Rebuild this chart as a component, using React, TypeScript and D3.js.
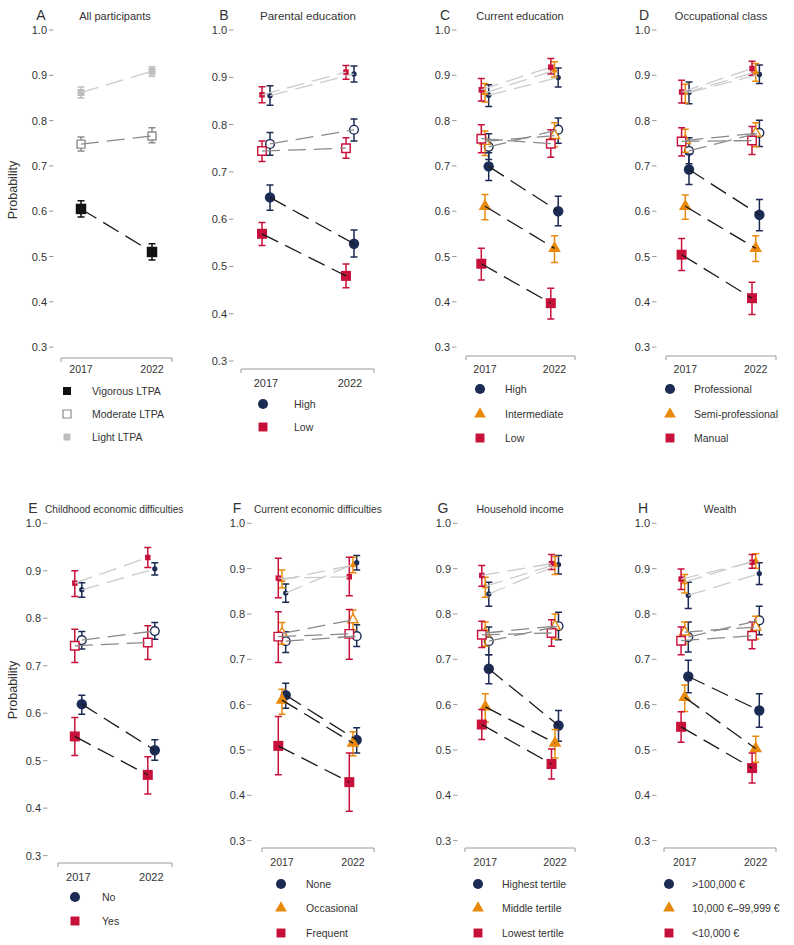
import React from "react";
import * as d3 from "d3";

type Level = "Vigorous" | "Moderate" | "Light";
type Row = { group: string; level: Level; est: number[]; lo: number[]; hi: number[] };

const years = ["2017", "2022"];
const yTicks = [0.3, 0.4, 0.5, 0.6, 0.7, 0.8, 0.9, 1.0];
const intensities = ["Vigorous LTPA", "Moderate LTPA", "Light LTPA"];

const groupsA = ["All"];
const groupsB = ["High", "Low"];
const groupsC = ["High", "Intermediate", "Low"];
const groupsD = ["Professional", "Semi-professional", "Manual"];
const groupsE = ["No", "Yes"];
const groupsF = ["None", "Occasional", "Frequent"];
const groupsG = ["Highest tertile", "Middle tertile", "Lowest tertile"];
const groupsH = [">100,000 €", "10,000 €–99,999 €", "<10,000 €"];

const allParticipants: Row[] = [
  { group: "All", level: "Vigorous", est: [0.605, 0.51], lo: [0.587, 0.492], hi: [0.623, 0.528] },
  { group: "All", level: "Moderate", est: [0.748, 0.766], lo: [0.733, 0.751], hi: [0.764, 0.784] },
  { group: "All", level: "Light", est: [0.862, 0.909], lo: [0.85, 0.898], hi: [0.874, 0.919] },
];

const parentalEducation: Row[] = [
  { group: "High", level: "Vigorous", est: [0.646, 0.548], lo: [0.619, 0.52], hi: [0.672, 0.577] },
  { group: "Low", level: "Vigorous", est: [0.569, 0.48], lo: [0.544, 0.455], hi: [0.593, 0.505] },
  { group: "High", level: "Moderate", est: [0.759, 0.789], lo: [0.735, 0.765], hi: [0.783, 0.812] },
  { group: "Low", level: "Moderate", est: [0.744, 0.75], lo: [0.722, 0.729], hi: [0.765, 0.772] },
  { group: "High", level: "Light", est: [0.861, 0.907], lo: [0.841, 0.89], hi: [0.882, 0.924] },
  { group: "Low", level: "Light", est: [0.863, 0.911], lo: [0.846, 0.896], hi: [0.88, 0.925] },
];

const currentEducation: Row[] = [
  { group: "High", level: "Vigorous", est: [0.699, 0.6], lo: [0.668, 0.568], hi: [0.729, 0.633] },
  { group: "Intermediate", level: "Vigorous", est: [0.611, 0.518], lo: [0.581, 0.487], hi: [0.637, 0.546] },
  { group: "Low", level: "Vigorous", est: [0.484, 0.397], lo: [0.448, 0.362], hi: [0.518, 0.43] },
  { group: "High", level: "Moderate", est: [0.742, 0.78], lo: [0.714, 0.75], hi: [0.771, 0.806] },
  { group: "Intermediate", level: "Moderate", est: [0.754, 0.767], lo: [0.723, 0.742], hi: [0.777, 0.795] },
  { group: "Low", level: "Moderate", est: [0.76, 0.749], lo: [0.729, 0.719], hi: [0.791, 0.78] },
  { group: "High", level: "Light", est: [0.856, 0.895], lo: [0.831, 0.874], hi: [0.879, 0.916] },
  { group: "Intermediate", level: "Light", est: [0.861, 0.911], lo: [0.841, 0.896], hi: [0.882, 0.93] },
  { group: "Low", level: "Light", est: [0.868, 0.918], lo: [0.843, 0.903], hi: [0.893, 0.937] },
];

const occupationalClass: Row[] = [
  { group: "Professional", level: "Vigorous", est: [0.692, 0.592], lo: [0.659, 0.557], hi: [0.726, 0.626] },
  { group: "Semi-professional", level: "Vigorous", est: [0.611, 0.518], lo: [0.582, 0.489], hi: [0.636, 0.546] },
  { group: "Manual", level: "Vigorous", est: [0.504, 0.408], lo: [0.469, 0.372], hi: [0.54, 0.443] },
  { group: "Professional", level: "Moderate", est: [0.733, 0.773], lo: [0.705, 0.743], hi: [0.762, 0.801] },
  { group: "Semi-professional", level: "Moderate", est: [0.756, 0.772], lo: [0.73, 0.742], hi: [0.781, 0.795] },
  { group: "Manual", level: "Moderate", est: [0.754, 0.756], lo: [0.722, 0.725], hi: [0.784, 0.787] },
  { group: "Professional", level: "Light", est: [0.862, 0.902], lo: [0.837, 0.882], hi: [0.885, 0.923] },
  { group: "Semi-professional", level: "Light", est: [0.862, 0.907], lo: [0.839, 0.887], hi: [0.88, 0.926] },
  { group: "Manual", level: "Light", est: [0.863, 0.915], lo: [0.839, 0.9], hi: [0.889, 0.931] },
];

const childhoodDifficulties: Row[] = [
  { group: "No", level: "Vigorous", est: [0.619, 0.522], lo: [0.598, 0.501], hi: [0.638, 0.544] },
  { group: "Yes", level: "Vigorous", est: [0.551, 0.47], lo: [0.511, 0.43], hi: [0.591, 0.508] },
  { group: "No", level: "Moderate", est: [0.754, 0.773], lo: [0.735, 0.756], hi: [0.772, 0.791] },
  { group: "Yes", level: "Moderate", est: [0.742, 0.749], lo: [0.707, 0.713], hi: [0.777, 0.784] },
  { group: "No", level: "Light", est: [0.86, 0.904], lo: [0.844, 0.891], hi: [0.875, 0.917] },
  { group: "Yes", level: "Light", est: [0.874, 0.928], lo: [0.846, 0.907], hi: [0.9, 0.949] },
];

const currentDifficulties: Row[] = [
  { group: "None", level: "Vigorous", est: [0.621, 0.522], lo: [0.592, 0.493], hi: [0.647, 0.549] },
  { group: "Occasional", level: "Vigorous", est: [0.61, 0.515], lo: [0.579, 0.487], hi: [0.634, 0.54] },
  { group: "Frequent", level: "Vigorous", est: [0.509, 0.429], lo: [0.445, 0.365], hi: [0.574, 0.493] },
  { group: "None", level: "Moderate", est: [0.74, 0.751], lo: [0.715, 0.728], hi: [0.761, 0.776] },
  { group: "Occasional", level: "Moderate", est: [0.757, 0.787], lo: [0.733, 0.765], hi: [0.781, 0.809] },
  { group: "Frequent", level: "Moderate", est: [0.75, 0.756], lo: [0.693, 0.7], hi: [0.805, 0.81] },
  { group: "None", level: "Light", est: [0.846, 0.913], lo: [0.826, 0.897], hi: [0.866, 0.929] },
  { group: "Occasional", level: "Light", est: [0.875, 0.908], lo: [0.858, 0.891], hi: [0.897, 0.925] },
  { group: "Frequent", level: "Light", est: [0.879, 0.882], lo: [0.836, 0.84], hi: [0.923, 0.925] },
];

const householdIncome: Row[] = [
  { group: "Highest tertile", level: "Vigorous", est: [0.679, 0.554], lo: [0.646, 0.519], hi: [0.71, 0.587] },
  { group: "Middle tertile", level: "Vigorous", est: [0.595, 0.515], lo: [0.561, 0.482], hi: [0.624, 0.545] },
  { group: "Lowest tertile", level: "Vigorous", est: [0.556, 0.469], lo: [0.523, 0.436], hi: [0.589, 0.502] },
  { group: "Highest tertile", level: "Moderate", est: [0.74, 0.773], lo: [0.71, 0.743], hi: [0.771, 0.804] },
  { group: "Middle tertile", level: "Moderate", est: [0.758, 0.773], lo: [0.729, 0.745], hi: [0.782, 0.8] },
  { group: "Lowest tertile", level: "Moderate", est: [0.754, 0.758], lo: [0.726, 0.729], hi: [0.784, 0.787] },
  { group: "Highest tertile", level: "Light", est: [0.844, 0.909], lo: [0.817, 0.888], hi: [0.87, 0.929] },
  { group: "Middle tertile", level: "Light", est: [0.861, 0.909], lo: [0.837, 0.887], hi: [0.881, 0.927] },
  { group: "Lowest tertile", level: "Light", est: [0.885, 0.911], lo: [0.861, 0.898], hi: [0.907, 0.931] },
];

const wealth: Row[] = [
  { group: ">100,000 €", level: "Vigorous", est: [0.662, 0.587], lo: [0.626, 0.55], hi: [0.698, 0.624] },
  { group: "10,000 €–99,999 €", level: "Vigorous", est: [0.616, 0.503], lo: [0.585, 0.473], hi: [0.643, 0.53] },
  { group: "<10,000 €", level: "Vigorous", est: [0.551, 0.46], lo: [0.517, 0.427], hi: [0.584, 0.493] },
  { group: ">100,000 €", level: "Moderate", est: [0.749, 0.786], lo: [0.716, 0.754], hi: [0.782, 0.817] },
  { group: "10,000 €–99,999 €", level: "Moderate", est: [0.76, 0.771], lo: [0.734, 0.745], hi: [0.782, 0.795] },
  { group: "<10,000 €", level: "Moderate", est: [0.741, 0.752], lo: [0.71, 0.723], hi: [0.771, 0.782] },
  { group: ">100,000 €", level: "Light", est: [0.841, 0.889], lo: [0.812, 0.865], hi: [0.87, 0.913] },
  { group: "10,000 €–99,999 €", level: "Light", est: [0.87, 0.918], lo: [0.846, 0.901], hi: [0.887, 0.933] },
  { group: "<10,000 €", level: "Light", est: [0.877, 0.914], lo: [0.854, 0.901], hi: [0.899, 0.931] },
];

const NAVY = "#1c2b54";
const ORANGE = "#e8890c";
const RED = "#c8113a";
const TEXT = "#333333";
const FONT = "'Liberation Sans', Arial, sans-serif";

const lineColor: Record<Level, string> = { Vigorous: "#1a1a1a", Moderate: "#8a8a8a", Light: "#cbcbcb" };
const allColor: Record<Level, string> = { Vigorous: "#111111", Moderate: "#8c8c8c", Light: "#bdbdbd" };

type Layout = {
  letter: string; title: string; groups: string[]; rows: Row[];
  cx: [number, number]; y1: number; y03: number; axisY: number; axisX: [number, number];
  tickRight: number; xLabelY: number; top: number; letterX: number;
  titleX: number; titleAnchor: "start" | "middle"; titleSize: number;
  ylabel?: number; legend: { mx: number; tx: number; ys: number[] }; dodge: number[]; xFont: number;
};

const panels: Layout[] = [
  { letter: "A", title: "All participants", groups: groupsA, rows: allParticipants, cx: [81, 152], y1: 30, y03: 347.1, axisY: 358, axisX: [61, 172], tickRight: 47, xLabelY: 373, top: 19.5, letterX: 41, titleX: 115, titleAnchor: "middle", titleSize: 11, ylabel: 190, legend: { mx: 67, tx: 92, ys: [391, 414, 437] }, dodge: [0], xFont: 10.5 },
  { letter: "B", title: "Parental education", groups: groupsB, rows: parentalEducation, cx: [266, 350], y1: 30, y03: 361, axisY: 369, axisX: [241, 374], tickRight: 227, xLabelY: 387, top: 19.5, letterX: 224, titleX: 308, titleAnchor: "middle", titleSize: 11.5, legend: { mx: 263, tx: 294, ys: [404, 427] }, dodge: [4, -4], xFont: 11 },
  { letter: "C", title: "Current education", groups: groupsC, rows: currentEducation, cx: [485, 554.5], y1: 30, y03: 347.1, axisY: 356, axisX: [466, 575], tickRight: 450, xLabelY: 373, top: 19.5, letterX: 445, titleX: 520, titleAnchor: "middle", titleSize: 11, legend: { mx: 480, tx: 505, ys: [389, 414, 438] }, dodge: [3.7, 0, -3.7], xFont: 10.5 },
  { letter: "D", title: "Occupational class", groups: groupsD, rows: occupationalClass, cx: [685.3, 755.7], y1: 30, y03: 347.1, axisY: 356, axisX: [666, 776], tickRight: 650, xLabelY: 373, top: 19.5, letterX: 644, titleX: 721, titleAnchor: "middle", titleSize: 11, legend: { mx: 670, tx: 694, ys: [389, 414, 438] }, dodge: [3.7, 0, -3.7], xFont: 10.5 },
  { letter: "E", title: "Childhood economic difficulties", groups: groupsE, rows: childhoodDifficulties, cx: [78.3, 151.3], y1: 523.3, y03: 855.6, axisY: 863, axisX: [58, 172], tickRight: 41, xLabelY: 881, top: 512.5, letterX: 33, titleX: 45, titleAnchor: "start", titleSize: 10.1, ylabel: 690, legend: { mx: 75, tx: 102, ys: [897, 921] }, dodge: [3.5, -3.5], xFont: 11 },
  { letter: "F", title: "Current economic difficulties", groups: groupsF, rows: currentDifficulties, cx: [282, 353], y1: 523.3, y03: 840.6, axisY: 848, axisX: [262, 374], tickRight: 245, xLabelY: 866, top: 512.5, letterX: 237, titleX: 254, titleAnchor: "start", titleSize: 10.2, legend: { mx: 281, tx: 306, ys: [884, 908, 933] }, dodge: [3.7, 0, -3.7], xFont: 10.5 },
  { letter: "G", title: "Household income", groups: groupsG, rows: householdIncome, cx: [485.3, 555], y1: 523.3, y03: 840.6, axisY: 848, axisX: [465, 575], tickRight: 451, xLabelY: 866, top: 512.5, letterX: 443, titleX: 520, titleAnchor: "middle", titleSize: 10.5, legend: { mx: 478, tx: 502, ys: [884, 908, 933] }, dodge: [3.5, 0, -3.5], xFont: 10.5 },
  { letter: "H", title: "Wealth", groups: groupsH, rows: wealth, cx: [684.7, 755.7], y1: 523.3, y03: 840.6, axisY: 848, axisX: [664, 776], tickRight: 650, xLabelY: 866, top: 512.5, letterX: 643, titleX: 720, titleAnchor: "middle", titleSize: 10.5, legend: { mx: 669, tx: 692, ys: [884, 908, 933] }, dodge: [3.6, 0, -3.6], xFont: 10.5 },
];

function groupStyle(groups: string[], g: string) {
  const i = groups.indexOf(g);
  if (groups.length === 1) return { color: "#111", shape: d3.symbolSquare };
  if (i === 0) return { color: NAVY, shape: d3.symbolCircle };
  if (i === groups.length - 1) return { color: RED, shape: d3.symbolSquare };
  return { color: ORANGE, shape: d3.symbolTriangle };
}

function symbolSize(shape: d3.SymbolType, level: Level, single: boolean) {
  if (single) return level === "Vigorous" ? 110 : level === "Moderate" ? 64 : 49;
  if (shape === d3.symbolCircle) return level === "Vigorous" ? 85 : level === "Moderate" ? 60 : 22;
  if (shape === d3.symbolSquare) return level === "Vigorous" ? 100 : level === "Moderate" ? 72 : 30;
  return level === "Vigorous" ? 70 : level === "Moderate" ? 46 : 22;
}

function Panel({ p }: { p: Layout }) {
  const y = d3.scaleLinear().domain([0.3, 1.0]).range([p.y03, p.y1]);
  const x = d3.scaleLinear().domain([0, 1]).range(p.cx);
  const single = p.groups.length === 1;
  const levelsOrder: Level[] = ["Light", "Moderate", "Vigorous"];
  const rowsSorted = [...p.rows].sort((a, b) => levelsOrder.indexOf(a.level) - levelsOrder.indexOf(b.level));
  const px = (r: Row, i: number) => x(i) + p.dodge[p.groups.indexOf(r.group)];
  const line = d3.line<[number, number]>().x((d) => d[0]).y((d) => d[1]);

  return (
    <g fontFamily={FONT}>
      <text x={p.letterX} y={p.top + 0.5} fontSize={14} textAnchor="middle" fill={TEXT}>{p.letter}</text>
      <text x={p.titleX} y={p.top} fontSize={p.titleSize} textAnchor={p.titleAnchor} fill={TEXT}>{p.title}</text>
      {p.ylabel !== undefined && (
        <text transform={`translate(17,${p.ylabel}) rotate(-90)`} fontSize={12.5} textAnchor="middle" fill={TEXT}>Probability</text>
      )}
      {yTicks.map((t) => (
        <g key={t}>
          <line x1={p.tickRight + 2} x2={p.tickRight + 6.5} y1={y(t)} y2={y(t)} stroke="#9a9a9a" strokeWidth={1} />
          <text x={p.tickRight} y={y(t) + 4} fontSize={11} textAnchor="end" fill={TEXT}>{d3.format(".1f")(t)}</text>
        </g>
      ))}
      <path d={`M${p.axisX[0]},${p.axisY + 4}V${p.axisY}H${p.axisX[1]}V${p.axisY + 4}`} fill="none" stroke="#9a9a9a" strokeWidth={1} />
      {years.map((yr, i) => (
        <text key={yr} x={x(i)} y={p.xLabelY} fontSize={p.xFont} textAnchor="middle" fill={TEXT}>{yr}</text>
      ))}
      {rowsSorted.map((r, k) => {
        const st = groupStyle(p.groups, r.group);
        const color = single ? allColor[r.level] : st.color;
        const size = symbolSize(st.shape, r.level, single);
        const sym = d3.symbol().type(st.shape).size(size)();
        const hollow = r.level === "Moderate";
        return (
          <g key={"m" + k}>
            {years.map((_, i) => {
              const cx = px(r, i);
              return (
                <g key={i}>
                  <path d={`M${cx},${y(r.lo[i])}V${y(r.hi[i])}M${cx - 3.5},${y(r.lo[i])}H${cx + 3.5}M${cx - 3.5},${y(r.hi[i])}H${cx + 3.5}`} stroke={color} strokeWidth={1.5} fill="none" />
                  <path d={sym} transform={`translate(${cx},${y(r.est[i])})`} fill={hollow ? "#fff" : color} stroke={hollow ? color : "none"} strokeWidth={hollow ? 1.4 : 0} />
                </g>
              );
            })}
          </g>
        );
      })}
      {rowsSorted.map((r, k) => (
        <path key={"l" + k} d={line([[px(r, 0), y(r.est[0])], [px(r, 1), y(r.est[1])]]) || ""} fill="none" stroke={lineColor[r.level]} strokeWidth={1.3} strokeDasharray="18,8" />
      ))}
      {single
        ? intensities.map((name, i) => {
            const lv: Level = (["Vigorous", "Moderate", "Light"] as Level[])[i];
            const hollow = lv === "Moderate";
            const sym = d3.symbol().type(d3.symbolSquare).size(lv === "Light" ? 49 : 64)();
            return (
              <g key={name}>
                <path d={sym} transform={`translate(${p.legend.mx},${p.legend.ys[i]})`} fill={hollow ? "#fff" : allColor[lv]} stroke={hollow ? allColor[lv] : "none"} strokeWidth={1.2} />
                <text x={p.legend.tx} y={p.legend.ys[i] + 3.7} fontSize={10.5} fill={TEXT}>{name}</text>
              </g>
            );
          })
        : p.groups.map((g, i) => {
            const st = groupStyle(p.groups, g);
            const size = st.shape === d3.symbolCircle ? 80 : st.shape === d3.symbolSquare ? 80 : 60;
            const sym = d3.symbol().type(st.shape).size(size)();
            return (
              <g key={g}>
                <path d={sym} transform={`translate(${p.legend.mx},${p.legend.ys[i]})`} fill={st.color} />
                <text x={p.legend.tx} y={p.legend.ys[i] + 3.7} fontSize={10.5} fill={TEXT}>{g}</text>
              </g>
            );
          })}
    </g>
  );
}

export default function App() {
  return (
    <svg width={794} height={945} viewBox="0 0 794 945" style={{ position: "absolute", left: 0, top: 0, background: "#fff" }}>
      <rect width={794} height={945} fill="#fff" />
      {panels.map((p) => (
        <Panel key={p.letter} p={p} />
      ))}
    </svg>
  );
}
